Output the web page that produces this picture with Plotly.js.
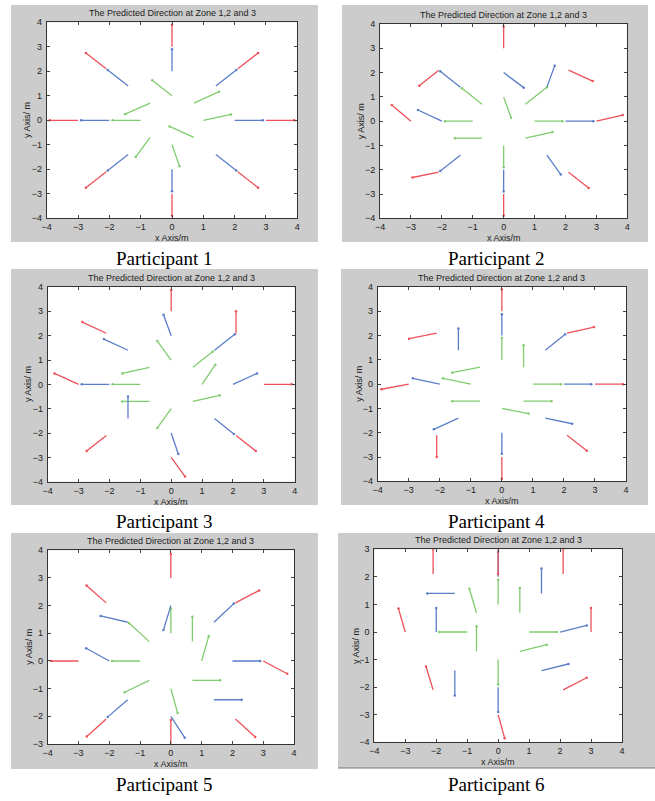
<!DOCTYPE html>
<html>
<head>
<meta charset="utf-8">
<script src="https://cdn.plot.ly/plotly-3.0.1.min.js"></script>
<style>html,body{margin:0;padding:0;background:#fff;}#chart{width:655px;height:801px;}</style>
</head>
<body>
<div id="chart"></div>
<script>
// Start points of each zone (order: top, upper-right, right, lower-right, bottom, lower-left, left, upper-left)
const zone1Start = [[0,1],[0.7,0.7],[1,0],[0.7,-0.7],[0,-1],[-0.7,-0.7],[-1,0],[-0.7,0.7]];
const zone2Start = [[0,2],[1.4,1.4],[2,0],[1.4,-1.4],[0,-2],[-1.4,-1.4],[-2,0],[-1.4,1.4]];
const zone3Start = [[0,3],[2.1,2.1],[3,0],[2.1,-2.1],[0,-3],[-2.1,-2.1],[-3,0],[-2.1,2.1]];

// Predicted direction end points per participant and zone
const p1Zone1End = [[-0.63,1.63],[1.5,1.17],[1.88,0.24],[-0.08,-0.25],[0.24,-1.88],[-1.16,-1.5],[-1.9,0],[-1.5,0.25]];
const p1Zone2End = [[0,2.9],[2.05,2.05],[2.9,0],[2.05,-2.05],[0,-2.9],[-2.05,-2.05],[-2.9,0],[-2.05,2.05]];
const p1Zone3End = [[0,3.9],[2.75,2.75],[3.9,0],[2.75,-2.75],[0,-3.9],[-2.75,-2.75],[-3.9,0],[-2.75,2.75]];

const p2Zone1End = [[0.24,0.14],[1.4,1.4],[1.9,0],[1.58,-0.45],[0,-1.9],[-1.58,-0.7],[-1.9,0],[-1.35,1.35]];
const p2Zone2End = [[0.65,1.38],[1.65,2.28],[2.9,0],[1.85,-2.2],[0,-2.9],[-2.05,-2.05],[-2.77,0.46],[-2.05,2.05]];
const p2Zone3End = [[0,3.9],[2.88,1.65],[3.85,0.25],[2.75,-2.75],[0,-3.9],[-2.95,-2.32],[-3.62,0.66],[-2.73,1.46]];

const p3Zone1End = [[-0.45,1.78],[1.35,1.35],[1.43,0.81],[1.57,-0.45],[-0.45,-1.79],[-1.59,-0.7],[-1.9,0],[-1.58,0.45]];
const p3Zone2End = [[-0.25,2.86],[2.06,2.06],[2.78,0.45],[2.03,-2.04],[0.23,-2.86],[-1.4,-0.5],[-2.9,0],[-2.18,1.86]];
const p3Zone3End = [[0,3.88],[2.1,3.0],[3.9,0],[2.74,-2.74],[0.45,-3.79],[-2.74,-2.74],[-3.78,0.45],[-2.88,2.56]];

const p4Zone1End = [[0,1.9],[0.7,1.6],[1.9,0],[1.6,-0.7],[0.86,-1.21],[-1.6,-0.7],[-1.9,0.24],[-1.6,0.47]];
const p4Zone2End = [[0,2.88],[2.04,2.05],[2.88,0],[2.27,-1.63],[0,-2.87],[-2.19,-1.86],[-2.87,0.24],[-1.4,2.29]];
const p4Zone3End = [[0,3.9],[2.97,2.35],[3.9,0],[2.74,-2.74],[0,-3.9],[-2.1,-3.0],[-3.88,-0.21],[-2.99,1.87]];

const p5Zone1End = [[0,1.9],[0.7,1.6],[1.23,0.9],[1.6,-0.7],[0.22,-1.88],[-1.5,-1.13],[-1.91,0],[-1.36,1.37]];
const p5Zone2End = [[-0.24,1.12],[2.05,2.08],[2.9,0],[2.3,-1.4],[0.45,-2.77],[-2.05,-2.02],[-2.75,0.46],[-2.28,1.63]];
const p5Zone3End = [[0,3.87],[2.87,2.55],[3.78,-0.46],[2.74,-2.75],[0,-2.13],[-2.73,-2.73],[-3.89,0],[-2.74,2.73]];

const p6Zone1End = [[0,1.9],[0.7,1.6],[1.89,0],[1.57,-0.46],[0,-1.9],[-0.7,0.21],[-1.9,0],[-0.93,1.57]];
const p6Zone2End = [[0,2.9],[1.4,2.3],[2.86,0.24],[2.27,-1.16],[0,-2.9],[-1.4,-2.3],[-2,0.87],[-2.29,1.4]];
const p6Zone3End = [[0,2.1],[2.1,3.0],[3.0,0.87],[2.86,-1.66],[0.21,-3.85],[-2.33,-1.25],[-3.22,0.85],[-2.1,3.0]];

const participants = ["Participant 1","Participant 2","Participant 3","Participant 4","Participant 5","Participant 6"];
const panelTitle = "The Predicted Direction at Zone 1,2 and 3";
const xTickVals = [-4,-3,-2,-1,0,1,2,3,4];
const yRanges = [[-4,4],[-4,4],[-4,4],[-4,4],[-3,4],[-4,3]];

const ends = [
  [p1Zone1End,p1Zone2End,p1Zone3End],
  [p2Zone1End,p2Zone2End,p2Zone3End],
  [p3Zone1End,p3Zone2End,p3Zone3End],
  [p4Zone1End,p4Zone2End,p4Zone3End],
  [p5Zone1End,p5Zone2End,p5Zone3End],
  [p6Zone1End,p6Zone2End,p6Zone3End]
];
const starts = [zone1Start, zone2Start, zone3Start];
const zoneColors = ['#80cc6e','#5a7ec8','#ef5059'];

// Layout geometry (pixels)
const W = 655, H = 801;
const plotBoxes = [
  [46.7,297.3,22.3,218.3],
  [380,627.3,24,218.3],
  [47.7,294.7,287,481.7],
  [377.7,626,287,481.3],
  [47.7,294,550.3,744],
  [374.3,622,549.3,742.3]
];
const grayBoxes = [
  [11,318,5,242],
  [342,648,5,242],
  [11,318,269,505],
  [341,648,269,505],
  [11,318,533,769],
  [338,655,533,768]
];
const captionPos = [[165,258],[496,258],[165,521],[496,521],[165,784],[496,784]];

const traces = [];
const layout = {
  width: W, height: H, autosize: false,
  margin: {l:0,r:0,t:0,b:0},
  paper_bgcolor: '#ffffff',
  showlegend: false,
  shapes: [], annotations: []
};
const fx = v => v / W;
const fy = v => 1 - v / H;
const smallFont = {family:'Liberation Sans, Arial, sans-serif', size:9, color:'#222'};

for (let i = 0; i < 6; i++) {
  const ax = i === 0 ? '' : String(i + 1);
  const xa = 'x' + ax, ya = 'y' + ax;
  for (let z = 0; z < 3; z++) {
    const xs = [], ys = [], ex = [], ey = [];
    starts[z].forEach((s, k) => {
      const e = ends[i][z][k];
      xs.push(s[0], e[0], null); ys.push(s[1], e[1], null);
      ex.push(e[0]); ey.push(e[1]);
    });
    traces.push({type:'scatter', mode:'lines', x:xs, y:ys, xaxis:xa, yaxis:ya,
      line:{color:zoneColors[z], width:1.3}, hoverinfo:'skip'});
    traces.push({type:'scatter', mode:'markers', x:ex, y:ey, xaxis:xa, yaxis:ya,
      marker:{color:zoneColors[z], size:2.5}, hoverinfo:'skip'});
  }
  const pb = plotBoxes[i];
  const axCommon = {
    showgrid:false, zeroline:false, showline:true, linecolor:'#333', linewidth:1,
    mirror:'ticks', ticks:'inside', ticklen:3, tickcolor:'#444', tickwidth:1,
    tickfont:smallFont, fixedrange:true
  };
  layout['xaxis' + ax] = Object.assign({}, axCommon, {
    domain:[fx(pb[0]), fx(pb[1])], range:[-4,4], tickvals:xTickVals, anchor:ya,
    ticklabelstandoff:0
  });
  const yr = yRanges[i];
  const yt = [];
  for (let v = yr[0]; v <= yr[1]; v++) yt.push(v);
  layout['yaxis' + ax] = Object.assign({}, axCommon, {
    domain:[fy(pb[3]), fy(pb[2])], range:yr, tickvals:yt, anchor:xa,
    ticklabelstandoff:2
  });

  const gb = grayBoxes[i];
  layout.shapes.push({type:'rect', xref:'paper', yref:'paper', layer:'below',
    x0:fx(gb[0]), x1:fx(gb[1]), y0:fy(gb[3]), y1:fy(gb[2]),
    fillcolor:'#cccccc', line:{width:0}});
  layout.shapes.push({type:'rect', xref:'paper', yref:'paper', layer:'below',
    x0:fx(pb[0]), x1:fx(pb[1]), y0:fy(pb[3]), y1:fy(pb[2]),
    fillcolor:'#ffffff', line:{width:0}});

  const cx = (pb[0] + pb[1]) / 2;
  layout.annotations.push({xref:'paper', yref:'paper', x:fx(cx), y:fy(pb[2] - 9),
    text:panelTitle, showarrow:false, xanchor:'center', yanchor:'middle', font:smallFont});
  layout.annotations.push({xref:'paper', yref:'paper', x:fx(cx), y:fy(pb[3] + 20),
    text:'x Axis/m', showarrow:false, xanchor:'center', yanchor:'middle', font:smallFont});
  layout.annotations.push({xref:'paper', yref:'paper', x:fx(pb[0] - 19), y:fy((pb[2] + pb[3]) / 2),
    text:'y Axis/ m', showarrow:false, xanchor:'center', yanchor:'middle', textangle:-90, font:smallFont});
  const cp = captionPos[i];
  layout.annotations.push({xref:'paper', yref:'paper', x:fx(cp[0]), y:fy(cp[1]),
    text:participants[i], showarrow:false, xanchor:'center', yanchor:'middle',
    font:{family:'Liberation Serif, Times New Roman, serif', size:19, color:'#000'}});
}
// bottom border under panel 6
layout.shapes.push({type:'line', xref:'paper', yref:'paper', x0:fx(338), x1:fx(655), y0:fy(768), y1:fy(768),
  line:{color:'#777', width:1.2}});

Plotly.newPlot('chart', traces, layout, {staticPlot:true, displayModeBar:false});
</script>
</body>
</html>
